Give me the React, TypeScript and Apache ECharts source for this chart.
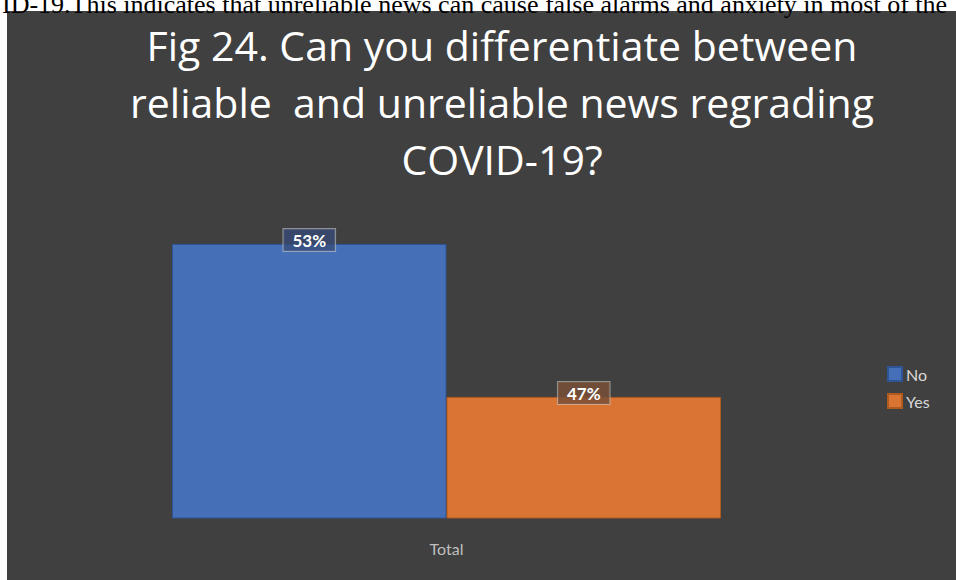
import React, { useEffect, useRef } from "react";
import * as echarts from "echarts";

const categories = ["Total"];
const seriesNames = ["No", "Yes"];
const noValues = [53];
const yesValues = [47];
const titleLines = [
  "Fig 24. Can you differentiate between",
  "reliable  and unreliable news regrading",
  "COVID-19?",
];
const topText =
  "ID-19.This indicates that unreliable news can cause false alarms and anxiety in most of the";

export default function App() {
  const ref = useRef<HTMLDivElement>(null);
  useEffect(() => {
    const chart = echarts.init(ref.current!, null, { renderer: "svg" });
    const labelFmt = (p: any) => `${p.value}%`;
    chart.setOption({
      animation: false,
      backgroundColor: "#ffffff",
      graphic: [
        {
          type: "rect",
          z: -10,
          shape: { x: 7, y: 11, width: 960, height: 580 },
          style: { fill: "#404040" },
        },
        {
          type: "text",
          z: -5,
          x: 2,
          y: 17,
          style: {
            text: topText,
            font: '26px "Liberation Serif"',
            fill: "#000",
            textVerticalAlign: "bottom",
          },
        },
      ],
      title: {
        text: titleLines.join("\n"),
        left: 497,
        top: 11,
        textAlign: "center",
        textStyle: {
          color: "#ffffff",
          fontFamily: "Open Sans",
          fontWeight: "normal",
          fontSize: 41,
          lineHeight: 57,
        },
      },
      legend: {
        orient: "vertical",
        left: 887,
        top: 366,
        padding: 0,
        itemWidth: 14,
        itemHeight: 14,
        itemGap: 11,
        icon: "rect",
        textStyle: { color: "#d9d9d9", fontSize: 16, fontFamily: "Lato", padding: [0, 0, 0, -1] },
        data: seriesNames,
      },
      grid: { left: 172, right: 235, top: 193, bottom: 62 },
      xAxis: {
        type: "category",
        data: categories,
        axisLine: { show: false },
        axisTick: { show: false },
        axisLabel: { color: "#bfbfbf", fontSize: 16, fontFamily: "Lato", margin: 22 },
      },
      yAxis: {
        type: "value",
        min: 42.25,
        max: 55,
        show: false,
        splitLine: { show: false },
      },
      series: [
        {
          name: seriesNames[0],
          type: "bar",
          data: noValues,
          barGap: "0%",
          barCategoryGap: "0%",
          itemStyle: { color: "#4570b8", borderColor: "#2f5597", borderWidth: 1 },
          label: {
            show: true,
            position: "top",
            distance: 0,
            offset: [0, 7],
            formatter: labelFmt,
            color: "#ffffff",
            fontWeight: "bold",
            fontSize: 17,
            fontFamily: "Lato",
            backgroundColor: "rgba(55,75,120,0.75)",
            borderColor: "rgba(200,200,200,0.6)",
            borderWidth: 1,
            padding: [3, 9, 2, 9],
          },
        },
        {
          name: seriesNames[1],
          type: "bar",
          data: yesValues,
          itemStyle: { color: "#d97433", borderColor: "#ae5a21", borderWidth: 1 },
          label: {
            show: true,
            position: "top",
            distance: 0,
            offset: [0, 7],
            formatter: labelFmt,
            color: "#ffffff",
            fontWeight: "bold",
            fontSize: 17,
            fontFamily: "Lato",
            backgroundColor: "rgba(120,80,55,0.85)",
            borderColor: "rgba(200,200,200,0.6)",
            borderWidth: 1,
            padding: [3, 9, 2, 9],
          },
        },
      ],
    });
    return () => chart.dispose();
  }, []);
  return (
    <div
      ref={ref}
      style={{ position: "fixed", left: 0, top: 0, width: 956, height: 580 }}
    />
  );
}
